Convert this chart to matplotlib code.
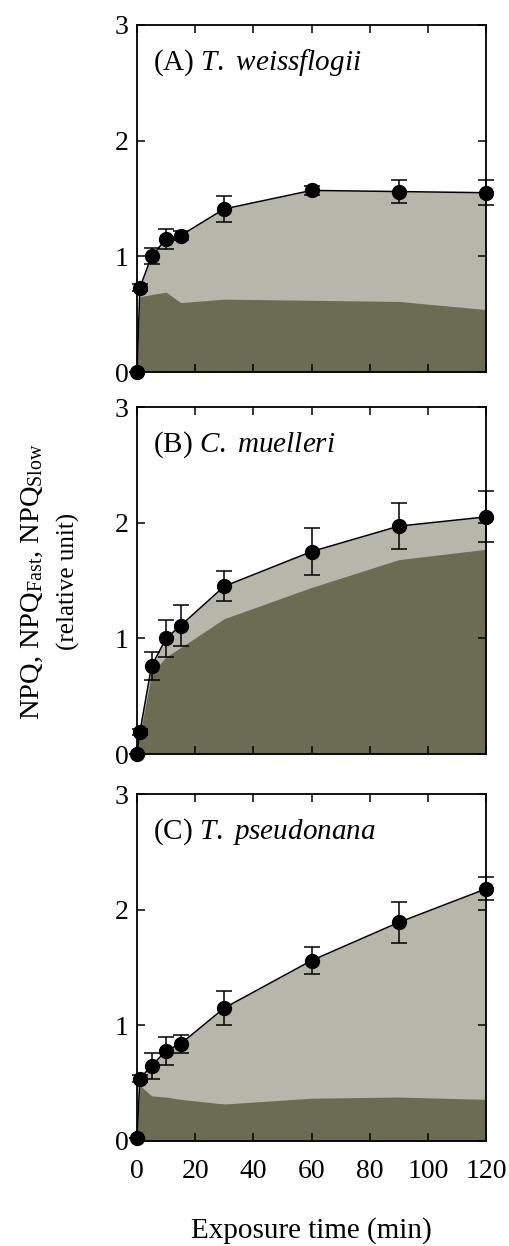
import matplotlib
matplotlib.use("Agg")
import matplotlib.pyplot as plt

plt.rcParams['font.family'] = ['Liberation Serif', 'DejaVu Serif']
plt.rcParams['mathtext.fontset'] = 'custom'
plt.rcParams['mathtext.rm'] = 'Liberation Serif'
plt.rcParams['mathtext.it'] = 'Liberation Serif:italic'

# exposure time (min)
t = [0, 1, 5, 10, 15, 30, 60, 90, 120]

# (A) T. weissflogii
npq_a = [0, 0.73, 1.00, 1.15, 1.18, 1.41, 1.57, 1.56, 1.55]
err_a = [0, 0.03, 0.07, 0.09, 0.04, 0.11, 0.04, 0.10, 0.11]
dark_a = [0, 0.65, 0.67, 0.69, 0.60, 0.63, 0.62, 0.61, 0.54]

# (B) C. muelleri
npq_b = [0, 0.19, 0.76, 1.00, 1.11, 1.45, 1.75, 1.97, 2.05]
err_b = [0, 0.03, 0.12, 0.16, 0.18, 0.13, 0.20, 0.20, 0.22]
dark_b = [0, 0.17, 0.69, 0.84, 0.92, 1.17, 1.44, 1.68, 1.77]

# (C) T. pseudonana
npq_c = [0.03, 0.54, 0.65, 0.78, 0.84, 1.15, 1.56, 1.89, 2.18]
err_c = [0, 0.03, 0.11, 0.12, 0.08, 0.15, 0.12, 0.18, 0.10]
dark_c = [0.03, 0.48, 0.39, 0.38, 0.36, 0.32, 0.37, 0.38, 0.36]

labels = [r"(A) $\it{T.}$ $\it{weissflogii}$", r"(B) $\it{C.}$ $\it{muelleri}$", r"(C) $\it{T.}$ $\it{pseudonana}$"]
npqs = [npq_a, npq_b, npq_c]
errs = [err_a, err_b, err_c]
darks = [dark_a, dark_b, dark_c]

light_col = '#b6b6aa'
dark_col = '#6c6c55'

fig = plt.figure(figsize=(5.1, 12.46), dpi=100)
left = 137 / 510
width = (486 - 137) / 510
tops = [25, 407, 794]
h = 347

for i in range(3):
    bottom = 1 - (tops[i] + h) / 1246
    ax = fig.add_axes([left, bottom, width, h / 1246])
    ax.fill_between(t, 0, npqs[i], color=light_col, lw=0)
    ax.fill_between(t, 0, darks[i], color=dark_col, lw=0)
    ax.errorbar(t, npqs[i], yerr=errs[i], fmt='o-', color='black', ms=10,
                lw=1.1, elinewidth=1.1, capsize=6, capthick=1.1, clip_on=False, zorder=5)
    ax.set_xlim(0, 120)
    ax.set_ylim(0, 3)
    ax.set_yticks([0, 1, 2, 3])
    ax.set_xticks([0, 20, 40, 60, 80, 100, 120])
    ax.tick_params(direction='in', length=6, width=1.1, top=True, right=True,
                   labelsize=20, pad=6)
    ax.tick_params(axis='x', pad=13)
    for s in ax.spines.values():
        s.set_linewidth(1.3)
    if i < 2:
        ax.set_xticklabels([])
    else:
        ax.set_xlabel("Exposure time (min)", fontsize=21, labelpad=24)
    ax.text(0.045, 0.89, labels[i], transform=ax.transAxes, fontsize=21, va='center')

fig.text(0.064, 0.533, r"NPQ, NPQ$_{\mathrm{Fast}}$, NPQ$_{\mathrm{Slow}}$", rotation=90,
         fontsize=20.5, ha='center', va='center')
fig.text(0.135, 0.533, "(relative unit)", rotation=90, fontsize=18, ha='center', va='center')

fig.savefig("out.png", dpi=100)
